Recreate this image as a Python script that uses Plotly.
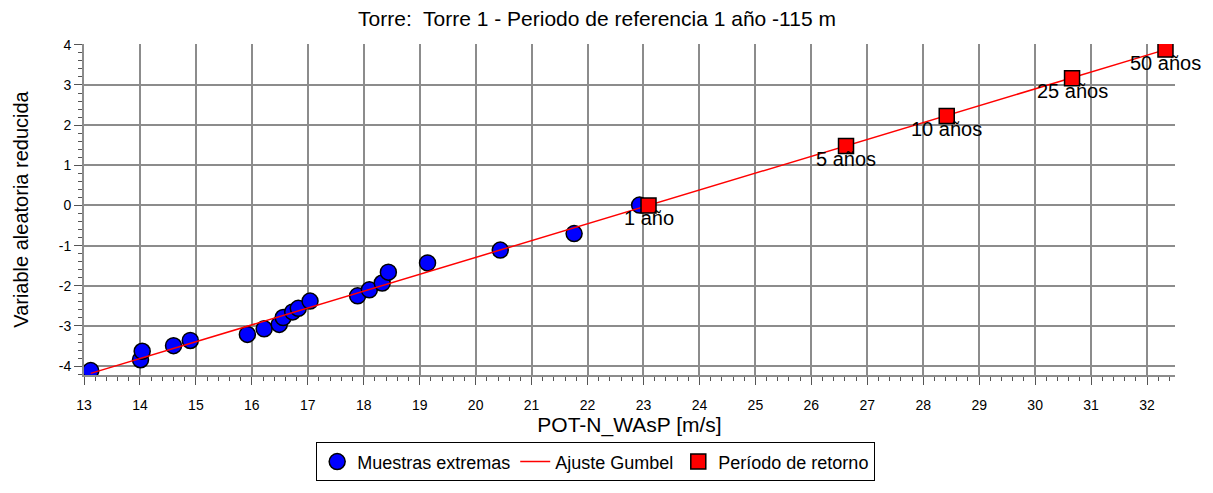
import plotly.graph_objects as go

# Extreme samples (POT-N_WAsP [m/s], reduced variate)
sample_x = [13.12, 14.01, 14.04, 14.60, 14.90, 15.92, 16.22, 16.49, 16.56, 16.73,
            16.83, 17.04, 17.89, 18.10, 18.33, 18.44, 19.14, 20.44, 21.76, 22.93]
sample_y = [-4.11, -3.84, -3.63, -3.49, -3.36, -3.21, -3.07, -2.96, -2.79, -2.65,
            -2.56, -2.38, -2.25, -2.10, -1.93, -1.66, -1.43, -1.11, -0.70, 0.01]

# Gumbel fit line
fit_x = [13.12, 32.33]
fit_y = [-4.18, 3.88]

# Return periods
rp_x = [23.09, 26.62, 28.42, 30.66, 32.33]
rp_y = [0.00, 1.48, 2.23, 3.17, 3.88]
rp_labels = ["1 año", "5 años", "10 años", "25 años", "50 años"]

x_ticks = list(range(13, 33))
y_ticks = list(range(-4, 5))

FONT = "Liberation Sans, Arial, sans-serif"
GRID = "#8c8c8c"

# page body has an 8px margin; figure sized to fill the rest of the window
W, H = 1205, 485
L, R, T, B = 74, 38, 36, 113
plot_h = H - T - B

fig = go.Figure()
fig.add_trace(go.Scatter(
    x=sample_x, y=sample_y, mode="markers", name="Muestras extremas",
    marker=dict(symbol="circle", size=16, color="#0000ff",
                line=dict(color="#000000", width=1.5)),
))
fig.add_trace(go.Scatter(
    x=fit_x, y=fit_y, mode="lines", name="Ajuste Gumbel",
    line=dict(color="#ff0000", width=1.5),
))
fig.add_trace(go.Scatter(
    x=rp_x, y=rp_y, mode="markers", name="Período de retorno",
    marker=dict(symbol="square", size=15, color="#ff0000",
                line=dict(color="#000000", width=1.5)),
))

for xv, yv, t in zip(rp_x, rp_y, rp_labels):
    fig.add_annotation(x=xv, y=yv, text=t, showarrow=False, yshift=-13,
                       font=dict(family=FONT, size=20, color="#000000"))

fig.update_layout(
    width=W, height=H,
    margin=dict(l=L, r=R, t=T, b=B),
    paper_bgcolor="white", plot_bgcolor="white",
    font=dict(family=FONT, color="#000000"),
    title=dict(text="Torre:  Torre 1 - Periodo de referencia 1 año -115 m",
               x=589 / W, xanchor="center", y=1 - 11 / H, yanchor="middle",
               font=dict(family=FONT, size=21, color="#000000")),
    showlegend=True,
    legend=dict(orientation="h", x=0.469, xanchor="center",
                y=-(480 - (H - B)) / plot_h, yanchor="bottom",
                bordercolor="#000000", borderwidth=1, bgcolor="white",
                font=dict(family=FONT, size=18, color="#000000"),
                traceorder="normal"),
)
fig.update_xaxes(
    range=[13, 32.5], tickvals=x_ticks, ticktext=[str(v) for v in x_ticks],
    showgrid=True, gridcolor=GRID, gridwidth=2,
    showline=True, linecolor=GRID, linewidth=2, zeroline=False,
    ticks="outside", ticklen=8, tickwidth=1, tickcolor="#555555",
    ticklabelstandoff=8,
    minor=dict(dtick=0.2, ticks="outside", ticklen=4, tickcolor="#555555", showgrid=False),
    tickfont=dict(family=FONT, size=14, color="#000000"),
    title=dict(text="POT-N_WAsP [m/s]", standoff=2,
               font=dict(family=FONT, size=21, color="#000000")),
)
fig.update_yaxes(
    range=[-4.22, 4.02], tickvals=y_ticks, ticktext=[str(v) for v in y_ticks],
    showgrid=True, gridcolor=GRID, gridwidth=2,
    showline=True, linecolor=GRID, linewidth=2, zeroline=False,
    ticks="outside", ticklen=8, tickwidth=1, tickcolor="#555555",
    minor=dict(dtick=0.2, ticks="outside", ticklen=4, tickcolor="#555555", showgrid=False),
    tickfont=dict(family=FONT, size=14, color="#000000"),
    title=dict(text="Variable aleatoria reducida", standoff=25,
               font=dict(family=FONT, size=20, color="#000000")),
)

fig.write_html("out.html")
